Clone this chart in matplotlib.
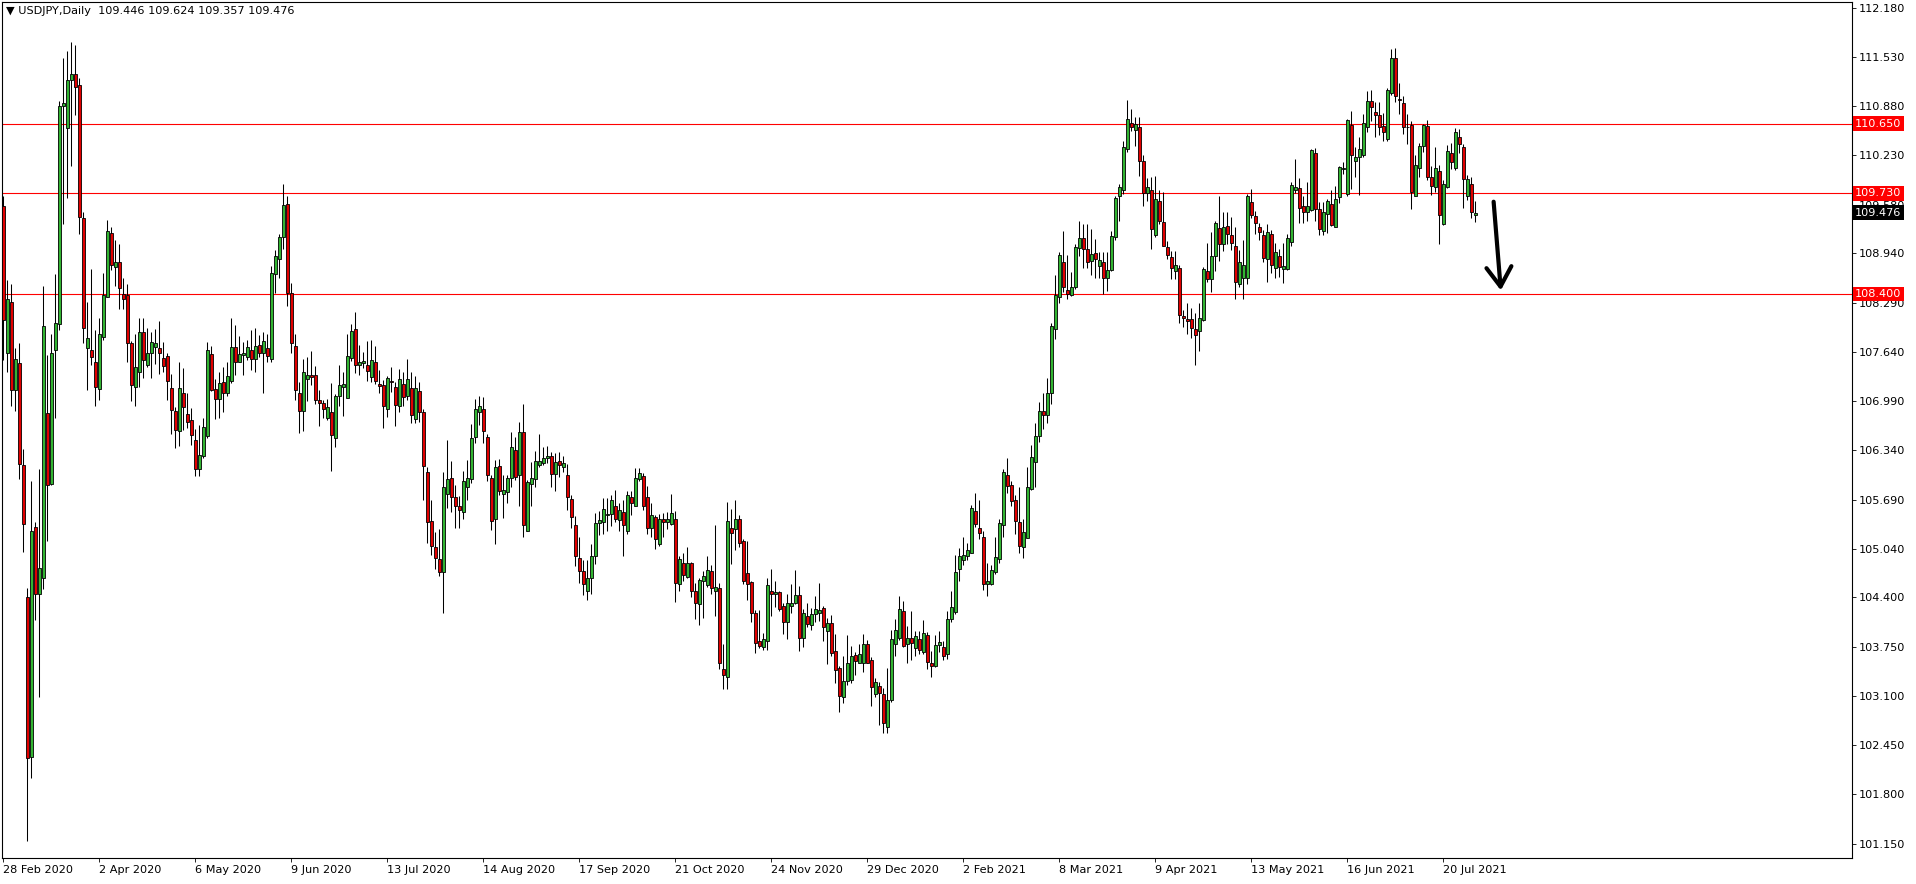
import numpy as np
import matplotlib
matplotlib.use("Agg")
import matplotlib.pyplot as plt
from matplotlib.transforms import blended_transform_factory

# USDJPY daily candles (bar 0 = 28 Feb 2020)
opens = [
    109.56, 107.62, 108.30, 107.13, 107.49, 106.14, 104.40, 102.29, 105.33, 104.45,
    104.66, 106.83, 105.89, 107.66, 108.00, 110.88, 110.59, 111.23, 111.30, 111.16,
    109.41, 107.69, 107.67, 107.51, 107.15, 107.83, 108.36, 109.21, 108.76, 108.82,
    108.40, 108.39, 107.76, 107.18, 107.37, 107.90, 107.46, 107.62, 107.70, 107.69,
    107.56, 107.58, 107.16, 106.86, 106.60, 107.10, 106.82, 106.74, 106.48, 106.09,
    106.27, 106.53, 107.61, 107.15, 107.02, 107.24, 107.10, 107.26, 107.70, 107.50,
    107.60, 107.57, 107.66, 107.55, 107.73, 107.62, 107.69, 107.54, 108.67, 108.86,
    109.15, 109.59, 108.42, 107.71, 107.09, 106.86, 107.28, 107.33, 107.33, 107.00,
    106.96, 106.77, 106.84, 106.50, 107.05, 107.18, 107.03, 107.56, 107.94, 107.46,
    107.49, 107.47, 107.31, 107.51, 107.21, 107.20, 106.88, 107.25, 107.18, 106.93,
    107.21, 107.06, 107.16, 106.75, 107.12, 106.84, 106.05, 105.41, 105.06, 104.91,
    104.73, 105.76, 105.98, 105.72, 105.61, 105.52, 105.85, 105.96, 106.52, 106.84,
    106.89, 106.52, 105.97, 105.43, 106.13, 105.77, 105.79, 105.98, 106.35, 106.01,
    106.58, 105.28, 105.90, 105.96, 106.14, 106.17, 106.24, 106.27, 106.03, 106.20,
    106.12, 106.02, 105.70, 105.35, 104.92, 104.75, 104.49, 104.65, 104.94, 105.38,
    105.39, 105.49, 105.50, 105.61, 105.42, 105.52, 105.28, 105.72, 105.61, 105.96,
    106.00, 105.73, 105.32, 105.46, 105.11, 105.44, 105.39, 105.37, 105.43, 104.58,
    104.85, 104.67, 104.85, 104.48, 104.31, 104.61, 104.56, 104.75, 104.48, 104.52,
    103.45, 103.35, 105.32, 105.30, 105.43, 105.14, 104.72, 104.60, 104.20, 103.82,
    103.75, 103.82, 104.49, 104.44, 104.47, 104.29, 104.07, 104.29, 104.33, 104.43,
    103.86, 104.15, 104.04, 104.18, 104.20, 104.26, 103.96, 104.06, 103.69, 103.47,
    103.09, 103.30, 103.31, 103.64, 103.54, 103.54, 103.78, 103.57, 103.13, 103.23,
    103.13, 102.69, 103.05, 103.78, 103.87, 104.22, 103.79, 103.86, 103.73, 103.85,
    103.68, 103.90, 103.54, 103.49, 103.77, 103.75, 103.65, 104.11, 104.21, 104.78,
    104.89, 104.94, 104.99, 105.54, 105.31, 105.20, 104.57, 104.57, 104.73, 104.91,
    105.36, 106.01, 105.88, 105.69, 105.40, 105.07, 105.18, 105.83, 106.18, 106.53,
    106.86, 106.80, 107.10, 107.94, 108.36, 108.83, 108.45, 108.39, 108.50, 109.01,
    109.14, 108.99, 108.84, 108.94, 108.77, 108.83, 108.61, 108.72, 109.16, 109.70,
    109.77, 110.31, 110.66, 110.56, 110.60, 110.16, 109.73, 109.77, 109.18, 109.63,
    109.35, 109.02, 108.89, 108.70, 108.75, 108.11, 108.07, 108.07, 107.94, 107.91,
    108.06, 108.70, 108.60, 108.91, 109.27, 109.06, 109.30, 109.18, 109.04, 108.54,
    108.62, 108.62, 109.62, 109.43, 109.28, 109.18, 108.86, 109.19, 108.75, 108.90,
    108.73, 108.73, 109.09, 109.77, 109.80, 109.56, 109.48, 109.51, 110.26, 109.52,
    109.23, 109.46, 109.59, 109.29, 109.68, 110.05, 109.72, 110.63, 110.16, 110.21,
    110.24, 110.60, 110.95, 110.80, 110.76, 110.62, 110.45, 111.06, 111.51, 110.98,
    110.92, 110.61, 110.63, 109.70, 110.07, 110.35, 110.62, 109.95, 109.81, 110.03,
    109.33, 109.81, 110.26, 110.07, 110.48, 110.34, 109.70, 109.86, 109.446,
]
highs = [
    109.70, 108.59, 108.53, 107.69, 107.75, 106.36, 104.52, 105.93, 105.40, 106.10,
    108.51, 107.60, 107.87, 108.66, 110.95, 111.52, 111.61, 111.73, 111.69, 111.25,
    109.48, 108.30, 108.73, 107.93, 108.09, 108.68, 109.38, 109.28, 109.12, 109.06,
    108.61, 108.53, 107.78, 107.88, 108.09, 108.09, 107.95, 107.90, 107.94, 108.05,
    107.77, 107.63, 107.35, 106.91, 107.51, 107.42, 107.09, 106.90, 106.62, 106.67,
    106.76, 107.77, 107.71, 107.28, 107.37, 107.44, 107.51, 108.09, 107.99, 107.85,
    107.77, 107.79, 107.93, 107.96, 107.86, 107.90, 107.87, 108.77, 108.98, 109.19,
    109.85, 109.69, 108.55, 107.88, 107.24, 107.55, 107.57, 107.65, 107.45, 107.14,
    107.01, 107.02, 107.23, 107.08, 107.47, 107.37, 107.88, 108.00, 108.16, 107.73,
    107.64, 107.78, 107.80, 107.72, 107.40, 107.27, 107.32, 107.44, 107.24, 107.41,
    107.37, 107.55, 107.37, 107.32, 107.24, 106.89, 106.12, 105.69, 105.26, 105.30,
    106.06, 106.48, 106.20, 105.88, 105.74, 106.07, 106.21, 106.69, 107.02, 107.06,
    107.04, 106.56, 106.01, 106.21, 106.22, 106.01, 106.01, 106.58, 106.52, 106.71,
    106.95, 105.95, 106.18, 106.33, 106.56, 106.39, 106.40, 106.32, 106.31, 106.32,
    106.27, 106.16, 105.75, 105.47, 105.19, 104.89, 104.89, 105.10, 105.51, 105.54,
    105.71, 105.71, 105.75, 105.81, 105.65, 105.68, 105.80, 105.80, 106.11, 106.11,
    106.04, 105.87, 105.64, 105.49, 105.50, 105.51, 105.52, 105.76, 105.54, 104.94,
    104.98, 105.06, 104.86, 104.59, 104.65, 104.75, 104.95, 104.83, 105.35, 104.59,
    103.78, 105.66, 105.56, 105.68, 105.49, 105.17, 105.15, 104.62, 104.23, 104.23,
    103.93, 104.65, 104.77, 104.62, 104.49, 104.32, 104.44, 104.58, 104.76, 104.55,
    104.25, 104.32, 104.26, 104.42, 104.59, 104.29, 104.13, 104.17, 103.92, 103.50,
    103.62, 103.90, 103.76, 103.68, 103.78, 103.92, 103.84, 103.61, 103.34, 103.28,
    103.20, 103.47, 103.97, 104.11, 104.42, 104.35, 104.02, 104.22, 103.95, 103.96,
    104.10, 103.94, 103.69, 103.90, 103.96, 103.82, 104.22, 104.48, 104.96, 105.05,
    105.19, 105.12, 105.62, 105.78, 105.68, 105.28, 104.85, 104.83, 105.20, 105.43,
    106.09, 106.24, 105.94, 105.75, 105.85, 105.44, 106.12, 106.41, 106.70, 106.98,
    107.10, 107.30, 108.02, 108.65, 108.95, 109.23, 108.92, 108.69, 109.06, 109.37,
    109.32, 109.32, 109.26, 109.13, 108.96, 108.96, 108.95, 109.23, 109.69, 109.85,
    110.42, 110.96, 110.84, 110.74, 110.74, 110.24, 109.93, 109.94, 109.96, 109.77,
    109.75, 109.10, 108.97, 108.97, 108.79, 108.19, 108.28, 108.22, 108.15, 108.28,
    108.76, 109.08, 109.22, 109.36, 109.70, 109.48, 109.48, 109.42, 109.28, 108.98,
    109.12, 109.72, 109.79, 109.50, 109.34, 109.25, 109.33, 109.25, 109.07, 108.99,
    109.07, 109.19, 109.88, 110.19, 109.93, 109.69, 109.88, 110.31, 110.33, 109.62,
    109.62, 109.65, 109.78, 109.83, 110.09, 110.15, 110.71, 110.82, 110.34, 110.48,
    110.78, 111.08, 111.10, 110.93, 110.94, 110.79, 111.12, 111.63, 111.65, 111.18,
    111.01, 110.78, 110.68, 110.24, 110.40, 110.65, 110.70, 110.09, 110.34, 110.10,
    109.90, 110.37, 110.39, 110.59, 110.58, 110.38, 109.97, 109.95, 109.624,
]
lows = [
    107.53, 107.37, 106.93, 106.86, 105.96, 105.00, 101.19, 102.02, 104.10, 103.09,
    104.51, 105.15, 105.88, 106.76, 107.93, 109.33, 109.67, 110.09, 110.76, 109.20,
    107.76, 107.13, 107.47, 106.92, 107.01, 107.80, 108.36, 108.72, 108.51, 108.21,
    108.21, 107.50, 106.99, 106.93, 107.17, 107.30, 107.44, 107.29, 107.48, 107.35,
    107.37, 107.00, 106.56, 106.37, 106.40, 106.61, 106.64, 106.41, 106.00, 106.00,
    106.24, 106.50, 107.12, 106.75, 106.77, 106.85, 107.06, 107.23, 107.34, 107.50,
    107.33, 107.53, 107.40, 107.37, 107.57, 107.10, 107.50, 107.51, 108.42, 108.61,
    108.99, 108.24, 107.62, 107.00, 106.57, 106.59, 106.99, 107.20, 106.95, 106.66,
    106.76, 106.74, 106.07, 106.39, 106.92, 106.79, 107.03, 107.52, 107.36, 107.33,
    107.43, 107.26, 107.24, 107.21, 107.10, 106.64, 106.78, 107.11, 106.66, 106.84,
    106.93, 107.00, 106.70, 106.70, 106.72, 105.69, 105.12, 104.96, 104.78, 104.68,
    104.19, 105.58, 105.53, 105.32, 105.31, 105.44, 105.69, 105.91, 106.44, 106.68,
    106.44, 105.94, 105.29, 105.10, 105.75, 105.45, 105.65, 105.86, 105.95, 105.61,
    105.20, 105.27, 105.60, 105.86, 106.12, 106.15, 106.17, 105.86, 105.80, 105.99,
    106.05, 105.55, 105.31, 104.81, 104.59, 104.43, 104.37, 104.45, 104.84, 105.22,
    105.24, 105.27, 105.34, 105.40, 105.28, 104.95, 105.24, 105.48, 105.60, 105.93,
    105.55, 105.24, 105.19, 105.04, 105.08, 105.20, 105.30, 105.36, 104.34, 104.49,
    104.61, 104.66, 104.40, 104.12, 104.04, 104.13, 104.54, 104.44, 104.16, 103.46,
    103.19, 103.19, 104.84, 105.02, 105.07, 104.57, 104.36, 104.08, 103.66, 103.73,
    103.70, 103.70, 104.16, 104.27, 104.22, 103.92, 103.85, 104.19, 104.31, 103.69,
    103.74, 104.01, 103.97, 104.07, 104.09, 103.83, 103.52, 103.62, 103.27, 102.89,
    103.01, 103.24, 103.27, 103.37, 103.53, 103.42, 103.53, 102.97, 103.08, 102.72,
    102.61, 102.61, 103.02, 103.62, 103.84, 103.74, 103.54, 103.57, 103.63, 103.65,
    103.65, 103.46, 103.35, 103.48, 103.68, 103.57, 103.58, 104.07, 104.18, 104.62,
    104.83, 104.89, 104.98, 105.33, 105.17, 104.50, 104.42, 104.56, 104.71, 104.85,
    105.19, 105.78, 105.60, 105.24, 104.99, 104.92, 105.18, 105.81, 105.85, 106.45,
    106.62, 106.70, 106.95, 107.81, 108.29, 108.43, 108.33, 108.37, 108.47, 108.91,
    108.75, 108.74, 108.65, 108.61, 108.62, 108.40, 108.44, 108.70, 109.11, 109.37,
    109.72, 110.27, 110.55, 110.36, 109.96, 109.57, 109.63, 108.99, 109.15, 109.33,
    109.03, 108.87, 108.60, 108.60, 108.02, 107.97, 107.87, 107.82, 107.47, 107.65,
    108.05, 108.56, 108.43, 108.71, 108.84, 108.97, 109.06, 108.98, 108.33, 108.50,
    108.34, 108.54, 109.40, 109.19, 109.11, 108.83, 108.56, 108.68, 108.61, 108.63,
    108.55, 108.72, 109.03, 109.73, 109.34, 109.34, 109.37, 109.50, 109.37, 109.18,
    109.18, 109.21, 109.30, 109.28, 109.60, 109.99, 109.70, 109.79, 109.94, 109.71,
    110.21, 110.54, 110.68, 110.47, 110.50, 110.42, 110.42, 111.03, 110.94, 110.78,
    110.51, 110.38, 109.52, 109.69, 109.95, 110.28, 109.91, 109.71, 109.75, 109.06,
    109.31, 109.80, 110.05, 110.04, 110.26, 109.54, 109.64, 109.41, 109.357,
]
closes = [
    108.06, 108.34, 107.13, 107.54, 106.16, 105.37, 102.28, 105.27, 104.44, 104.79,
    107.98, 105.88, 107.62, 108.02, 110.88, 110.92, 111.22, 111.30, 111.14, 109.42,
    107.95, 107.82, 107.57, 107.17, 107.87, 108.39, 109.24, 108.79, 108.83, 108.48,
    108.34, 107.75, 107.20, 107.44, 107.90, 107.53, 107.62, 107.77, 107.75, 107.62,
    107.45, 107.25, 106.87, 106.61, 107.16, 106.91, 106.72, 106.54, 106.10, 106.28,
    106.65, 107.66, 107.14, 107.02, 107.23, 107.09, 107.32, 107.70, 107.51, 107.61,
    107.63, 107.70, 107.54, 107.71, 107.63, 107.78, 107.59, 108.68, 108.90, 109.16,
    109.58, 108.42, 107.75, 107.13, 106.86, 107.37, 107.33, 107.31, 107.00, 106.97,
    106.88, 106.91, 106.54, 107.06, 107.20, 107.21, 107.58, 107.92, 107.47, 107.50,
    107.52, 107.39, 107.53, 107.26, 107.19, 106.92, 107.29, 107.24, 106.94, 107.28,
    107.04, 107.28, 106.80, 107.16, 106.85, 106.13, 105.39, 105.08, 104.92, 104.73,
    105.85, 105.96, 105.73, 105.60, 105.55, 105.94, 105.97, 106.50, 106.88, 106.93,
    106.59, 106.01, 105.41, 106.12, 105.80, 105.81, 105.98, 106.39, 105.99, 106.58,
    105.36, 105.92, 105.97, 106.20, 106.20, 106.24, 106.26, 106.03, 106.19, 106.14,
    106.17, 105.73, 105.46, 104.95, 104.75, 104.57, 104.65, 104.95, 105.38, 105.42,
    105.57, 105.50, 105.69, 105.44, 105.55, 105.35, 105.75, 105.64, 105.97, 106.04,
    105.61, 105.32, 105.48, 105.17, 105.43, 105.39, 105.44, 105.51, 104.59, 104.91,
    104.70, 104.85, 104.48, 104.32, 104.63, 104.68, 104.76, 104.52, 104.54, 103.53,
    103.37, 105.41, 105.25, 105.44, 105.12, 104.62, 104.57, 104.20, 103.80, 103.76,
    103.85, 104.56, 104.45, 104.47, 104.24, 104.08, 104.33, 104.32, 104.43, 103.86,
    104.20, 104.05, 104.18, 104.24, 104.23, 104.01, 104.06, 103.66, 103.44, 103.10,
    103.30, 103.53, 103.63, 103.56, 103.65, 103.79, 103.54, 103.22, 103.28, 103.14,
    102.74, 103.05, 103.85, 103.97, 104.25, 103.76, 103.87, 103.80, 103.89, 103.70,
    103.93, 103.55, 103.50, 103.77, 103.81, 103.63, 104.12, 104.27, 104.73, 104.95,
    104.96, 105.03, 105.58, 105.37, 105.25, 104.57, 104.61, 104.76, 104.93, 105.38,
    106.06, 105.87, 105.67, 105.41, 105.08, 105.26, 105.85, 106.25, 106.53, 106.86,
    106.80, 107.10, 107.98, 108.39, 108.92, 108.49, 108.40, 108.50, 109.02, 109.14,
    108.99, 108.83, 108.93, 108.87, 108.85, 108.61, 108.72, 109.17, 109.67, 109.82,
    110.34, 110.71, 110.60, 110.64, 110.16, 109.73, 109.82, 109.26, 109.66, 109.37,
    109.04, 108.92, 108.75, 108.78, 108.13, 108.08, 108.05, 107.96, 107.86, 108.09,
    108.73, 108.60, 108.91, 109.34, 109.06, 109.28, 109.19, 109.08, 108.56, 108.83,
    108.78, 109.70, 109.45, 109.34, 109.22, 108.88, 109.22, 108.79, 108.95, 108.76,
    108.77, 109.14, 109.84, 109.81, 109.54, 109.49, 109.56, 110.30, 109.52, 109.26,
    109.48, 109.63, 109.31, 109.65, 110.08, 110.06, 110.70, 110.23, 110.21, 110.31,
    110.66, 110.95, 110.87, 110.77, 110.60, 110.54, 111.10, 111.51, 111.01, 110.96,
    110.61, 110.60, 109.75, 110.10, 110.35, 110.63, 109.94, 109.83, 110.06, 109.44,
    109.85, 110.29, 110.14, 110.54, 110.38, 109.92, 109.92, 109.48, 109.476,
]

date_labels = ["28 Feb 2020", "2 Apr 2020", "6 May 2020", "9 Jun 2020", "13 Jul 2020",
               "14 Aug 2020", "17 Sep 2020", "21 Oct 2020", "24 Nov 2020", "29 Dec 2020",
               "2 Feb 2021", "8 Mar 2021", "9 Apr 2021", "13 May 2021", "16 Jun 2021",
               "20 Jul 2021"]
date_step = 24  # one label every 24 bars

price_ticks = [112.18, 111.53, 110.88, 110.23, 109.58, 108.94, 108.29, 107.64, 106.99,
               106.34, 105.69, 105.04, 104.40, 103.75, 103.10, 102.45, 101.80, 101.15]
levels = [110.65, 109.73, 108.40]
last_price = 109.476
title = "\u25bc USDJPY,Daily  109.446 109.624 109.357 109.476"

# hand-drawn arrow (bar index, price)
arrow_from = (372.6, 109.62)
arrow_to = (374.4, 108.45)

BULL = "#32b432"
BEAR = "#e00000"
FS = 8.1

o = np.array(opens)
h = np.array(highs)
l = np.array(lows)
c = np.array(closes)
x = np.arange(len(c))

W, H = 1916, 884
fig = plt.figure(figsize=(W / 100, H / 100), dpi=100)
ax = fig.add_axes([2 / W, 26 / H, 1850 / W, 856 / H])
ax.set_xlim(-0.325, 462.2)
ax.set_ylim(100.961, 112.255)

# levels
for lv in levels:
    ax.axhline(lv, color="red", lw=0.8, zorder=1)

# candles
ax.vlines(x, l, h, color="black", lw=0.75, zorder=2)
up = c >= o
body_lo = np.minimum(o, c)
body_h = np.maximum(np.abs(c - o), 0.004)
ax.bar(x[up], body_h[up], bottom=body_lo[up], width=0.72, color=BULL,
       edgecolor="black", linewidth=0.6, zorder=3)
ax.bar(x[~up], body_h[~up], bottom=body_lo[~up], width=0.72, color=BEAR,
       edgecolor="black", linewidth=0.6, zorder=3)

# axes look
for sp in ax.spines.values():
    sp.set_linewidth(0.8)
    sp.set_color("black")
ax.yaxis.tick_right()
ax.set_yticks(price_ticks)
ax.set_yticklabels([f"{p:.3f}" for p in price_ticks])
ax.tick_params(axis="y", direction="out", length=3, width=0.6, pad=2,
               labelsize=FS, colors="black")
ticks_x = [i * date_step for i in range(len(date_labels))]
ax.set_xticks(ticks_x)
ax.set_xticklabels(date_labels)
ax.tick_params(axis="x", direction="out", length=3, width=0.6, pad=2, labelsize=FS)
for t in ax.get_xticklabels():
    t.set_ha("left")

# price boxes on the right axis
tr = blended_transform_factory(ax.transAxes, ax.transData)
for lv in levels:
    ax.text(1.0016, lv, f"{lv:.3f}", transform=tr, fontsize=FS, color="white",
            va="center", ha="left", zorder=6,
            bbox=dict(boxstyle="square,pad=0.2", fc="red", ec="none"))
ax.text(1.0016, last_price, f"{last_price:.3f}", transform=tr, fontsize=FS,
        color="white", va="center", ha="left", zorder=6,
        bbox=dict(boxstyle="square,pad=0.2", fc="black", ec="none"))

# title
ax.text(0.002, 0.995, title, transform=ax.transAxes, fontsize=FS, va="top", ha="left")

# arrow
ax.annotate("", xy=arrow_to, xytext=arrow_from,
            arrowprops=dict(arrowstyle="->,head_length=0.7,head_width=0.45",
                            lw=3, color="black", mutation_scale=20,
                            shrinkA=0, shrinkB=0))

fig.savefig("out.png", dpi=100)
